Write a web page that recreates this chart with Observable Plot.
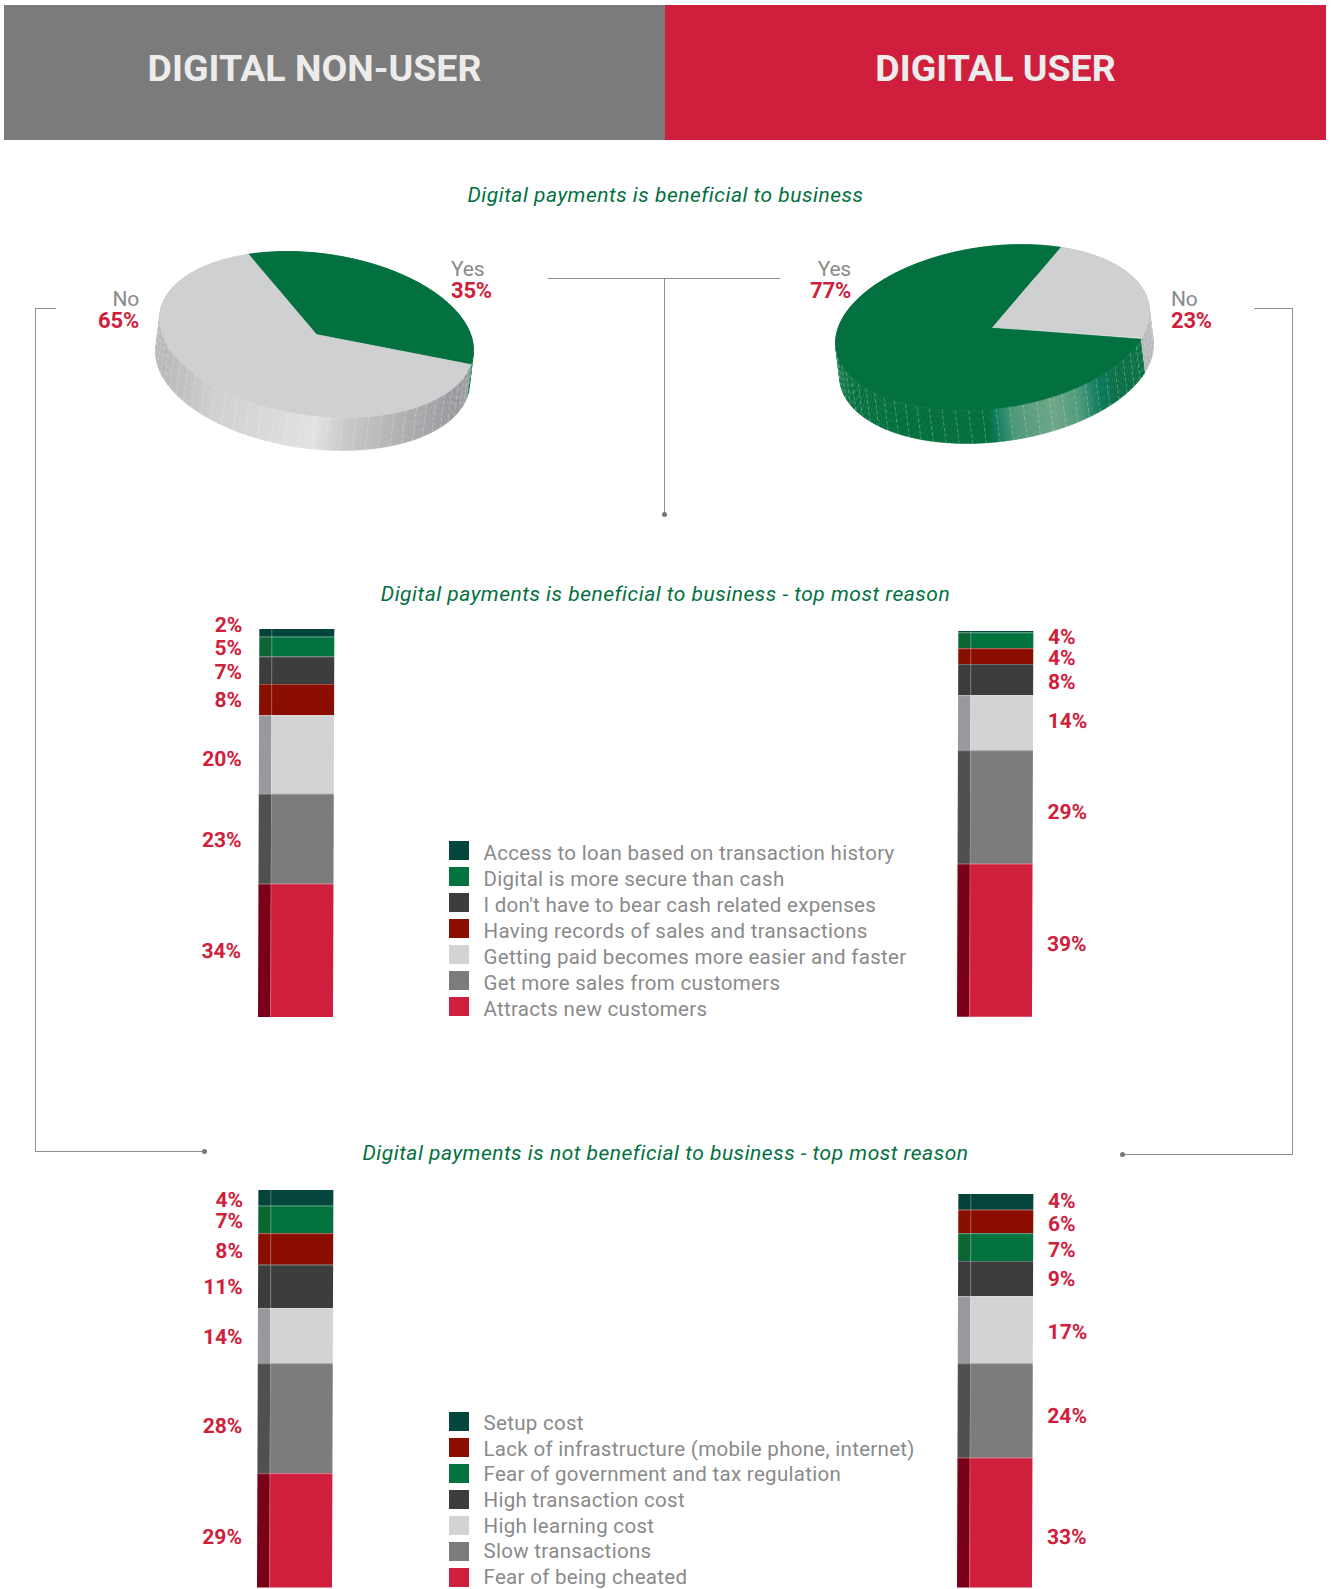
<!DOCTYPE html>
<html><head><meta charset="utf-8">
<script src="https://cdn.jsdelivr.net/npm/d3@7"></script>
<script src="https://cdn.jsdelivr.net/npm/@observablehq/plot@0.6"></script>
<style>
html,body{margin:0;padding:0;background:#fff}
#page{position:relative;width:1333px;height:1589px;overflow:hidden;font-family:Roboto,sans-serif}
.abs{position:absolute}
.band{display:flex;align-items:center;justify-content:center;color:#ececec;font-weight:700;font-size:37.5px;letter-spacing:0;box-sizing:border-box;padding-bottom:10px}
.title{left:-1px;width:1333px;text-align:center;color:#03703f;font-style:italic;font-weight:400;font-size:21px;letter-spacing:.5px;line-height:24px}
.lbl{font-size:21px;line-height:21px;color:#8a8a8a;font-weight:400;letter-spacing:-.2px}
.lbl b{display:block;color:#cf1f3d;font-weight:700;font-size:22px;letter-spacing:-.2px}
.rule{background:#8f8f8f}
.dot{width:5px;height:5px;border-radius:50%;background:#777}
.leg{color:#8a8a8a;font-size:20.5px;font-weight:400;line-height:20px;letter-spacing:.3px;white-space:nowrap}
.sw{width:20px;height:19px}
</style></head><body><div id="page"></div>
<script>
// ---- data ----
const pieKeys = ["Yes","No"];
const pieNonUser = [35,65];
const pieUser = [77,23];

const benefitCategories = ["Access to loan based on transaction history","Digital is more secure than cash","I don't have to bear cash related expenses","Having records of sales and transactions","Getting paid becomes more easier and faster","Get more sales from customers","Attracts new customers"];
const benefitNonUser = [2,5,7,8,20,23,34];
const benefitUser = [0.4,4,8,4,14,29,39];

const barrierCategories = ["Setup cost","Lack of infrastructure (mobile phone, internet)","Fear of government and tax regulation","High transaction cost","High learning cost","Slow transactions","Fear of being cheated"];
const barrierNonUser = [4,8,7,11,14,28,29];
const barrierUser = [4,6,7,9,17,24,33];

// ---- styles / layout ----
const benefitFront = ["#04453d","#02723f","#3b3e3d","#8a0d00","#d2d3d5","#7c7c7c","#cf1f3d"];
const benefitSide  = ["#04423a","#0b6633","#3a3d3c","#860f00","#97999c","#4f5150","#7a0019"];
const barrierFront = ["#04453d","#8a0d00","#02723f","#3b3e3d","#d2d3d5","#7c7c7c","#cf1f3d"];
const barrierSide  = ["#04423a","#860f00","#0b6633","#3a3d3c","#97999c","#4f5150","#7a0019"];

const page = document.getElementById("page");
function el(cls, css, html){
  const d=document.createElement("div");
  d.className="abs "+cls;
  Object.assign(d.style,css);
  if(html!==undefined) d.innerHTML=html;
  page.appendChild(d);
  return d;
}
// header
el("band",{left:"4px",top:"5px",width:"661px",height:"135px",background:"#7b7b7b",paddingRight:"40px"},"DIGITAL NON-USER");
el("band",{left:"665px",top:"5px",width:"661px",height:"135px",background:"#cf1f3d"},"DIGITAL USER");
// titles
el("title",{top:"183px"},"Digital payments is beneficial to business");
el("title",{top:"582px"},"Digital payments is beneficial to business - top most reason");
el("title",{top:"1141px"},"Digital payments is not beneficial to business - top most reason");
// connectors
function hr(x1,x2,y){el("rule",{left:x1+"px",top:y+"px",width:(x2-x1)+"px",height:"1px"})}
function vr(x,y1,y2){el("rule",{left:x+"px",top:y1+"px",width:"1px",height:(y2-y1)+"px"})}
function dot(x,y){el("dot",{left:(x-2.5)+"px",top:(y-2.5)+"px"})}
hr(548,780,278); vr(664,278,514); dot(664.5,514);
hr(35,56,308); vr(35,308,1152); hr(35,204,1151); dot(204,1151.5);
hr(1254,1293,308); vr(1292,308,1155); hr(1122,1293,1154); dot(1122,1154.5);

// ---- pies ----
const A=158,B=81,DEG=Math.PI/180;
function ramp(dom,rng){return d3.scaleLinear().domain(dom).range(rng).interpolate(d3.interpolateRgb).clamp(true)}
function drawPie({values,startDeg,tiltDeg,cx,cy,shift,topColors,wallRamps,floor}){
  const phi=tiltDeg*DEG;
  const pt=(deg)=>{const t=deg*DEG;return [A*Math.cos(t)*Math.cos(phi)-B*Math.sin(t)*Math.sin(phi),A*Math.cos(t)*Math.sin(phi)+B*Math.sin(t)*Math.cos(phi)]};
  const total=d3.sum(values);
  let a0=startDeg;
  const tops=[],walls=[],dashes=[];
  values.forEach((v,i)=>{
    const a1=a0+v/total*360;
    const id="s"+i;
    tops.push({id,x:0,y:0,color:topColors[i]});
    for(let a=a0;a<=a1+1e-6;a+=1){const p=pt(Math.min(a,a1));tops.push({id,x:p[0],y:p[1],color:topColors[i]})}
    tops.push({id,x:0,y:0,color:topColors[i]});
    for(let a=a0;a<a1;a+=1){
      const b=Math.min(a+1.2,a1);
      const p=pt(a),q=pt(b);
      const sid=`w${i}-${a}`;
      const mid=(p[0]+q[0])/2;
      const c=wallRamps[i](mid);
      const low=(r)=>[r[0]+shift,Math.min(r[1]+33,floor)];
      [p,q,low(q),low(p)].forEach(r=>walls.push({id:sid,x:r[0],y:r[1],color:c}));
      if(Math.round(a-a0)%5===0 && Math.sin(a*DEG)>-0.1){
        const l=low(p);
        dashes.push({x1:p[0],y1:p[1],x2:l[0],y2:l[1]});
      }
    }
    a0=a1;
  });
  const W=420,H=270;
  const plot=Plot.plot({
    width:W,height:H,margin:0,
    x:{domain:[-W/2,W/2],range:[0,W],axis:null},
    y:{domain:[-130,H-130],range:[0,H],axis:null},
    color:{type:"identity"},
    style:{background:"transparent",overflow:"visible"},
    marks:[
      Plot.line(walls,{x:"x",y:"y",z:"id",fill:"color",stroke:"color",strokeWidth:0.4,curve:"linear"}),
      Plot.link(dashes,{x1:"x1",y1:"y1",x2:"x2",y2:"y2",stroke:"#fff",strokeOpacity:0.38,strokeWidth:0.7,strokeDasharray:"4 2"}),
      Plot.line(tops,{x:"x",y:"y",z:"id",fill:"color",stroke:"color",strokeWidth:0.5,curve:"linear"})
    ]
  });
  plot.style.position="absolute";
  plot.style.left=(cx-W/2)+"px";
  plot.style.top=(cy-130)+"px";
  page.appendChild(plot);
}
const flatGreen=()=>"#05703f";
const greyNonUser=ramp([-163,-100,0,30,105,145],["#b0b1b3","#cfd0d1","#e1e2e2","#c8c9cb","#a8a9ab","#96979a"]);
const greenUser=ramp([-160,-5,0,20,60,85,105,125,150],["#05703f","#06703f","#0a7a5c","#4f9a7a","#6fa788","#4f9a7a","#0b7a5c","#0a6f45","#077040"]);
const greyUser=()=>"#b4b5b7";
drawPie({values:pieNonUser,startDeg:-119.6,tiltDeg:7.7,cx:315.5,cy:334,shift:-4,floor:116,
  topColors:["#03713f","#cfd0d2"],wallRamps:[flatGreen,greyNonUser]});
drawPie({values:pieUser,startDeg:22.7,tiltDeg:-7.7,cx:992,cy:327,shift:4,floor:117,
  topColors:["#03713f","#cfd0d2"],wallRamps:[greenUser,greyUser]});
// pie labels
function pieLabel(key,val,css){el("lbl",css,`${key}<b>${val}%</b>`)}
pieLabel(pieKeys[0],pieNonUser[0],{left:"451px",top:"259px"});
pieLabel(pieKeys[1],pieNonUser[1],{right:(1333-139)+"px",top:"289px",textAlign:"right"});
pieLabel(pieKeys[0],pieUser[0],{right:(1333-851)+"px",top:"259px",textAlign:"right"});
pieLabel(pieKeys[1],pieUser[1],{left:"1171px",top:"289px"});

// ---- stacked bars ----
const BAR_W=75, SIDE=0.165;
function drawBar({values,front,side,order,left,bottom,pct,labelX,nudge}){
  let cum=d3.sum(values);
  const rows=order.map((k,i)=>{const v=values[k];const y2=cum;const y1=cum-v;cum=y1;return {v,y1,y2,front:front[k],side:side[k],mid:(y1+y2)/2+nudge[i]}});
  const total=d3.sum(values);
  const U=[-1.2,2.0];
  const W=(U[1]-U[0])*BAR_W, H=total*pct+30;
  const p=Plot.plot({
    width:W,height:H,margin:0,
    x:{domain:U,range:[0,W],axis:null},
    y:{domain:[0,total],range:[H,30],axis:null},
    color:{type:"identity"},
    style:{background:"transparent",overflow:"visible",fontFamily:"Roboto,sans-serif"},
    marks:[
      Plot.rect(rows,{x1:0,x2:SIDE,y1:"y1",y2:"y2",fill:"side"}),
      Plot.rect(rows,{x1:SIDE,x2:1,y1:"y1",y2:"y2",fill:"front"}),
      Plot.ruleX([SIDE],{y1:d3.min(rows,d=>d.y1),y2:total,stroke:"#fff",strokeOpacity:0.12,strokeWidth:1}),
      Plot.ruleY(rows.slice(1),{y:"y2",x1:0,x2:1,stroke:"#fff",strokeOpacity:0.25,strokeWidth:1}),
      Plot.text(rows.filter(d=>d.v>=1),{
        x:labelX,y:"mid",text:d=>d.v+"%",
        textAnchor:labelX<0?"end":"start",lineAnchor:"middle",
        fill:"#cf1f3d",fontSize:21,fontWeight:700
      })
    ]
  });
  p.style.position="absolute";
  p.style.left=(left-(0-U[0])*BAR_W)+"px";
  p.style.top=(bottom-H)+"px";
  p.style.transformOrigin=`${(0-U[0])*BAR_W}px 100%`;
  p.style.transform="skewX(-0.2deg)";
  page.appendChild(p);
}
drawBar({values:benefitNonUser,front:benefitFront,side:benefitSide,order:[0,1,2,3,4,5,6],left:257.5,bottom:1017,pct:3.92,labelX:-0.235,
  nudge:[2.2,-0.25,-0.4,0,-1,-0.25,0]});
drawBar({values:benefitUser,front:benefitFront,side:benefitSide,order:[0,1,3,2,4,5,6],left:957,bottom:1017,pct:3.92,labelX:1.19,
  nudge:[0,1,-0.5,-0.5,0.5,-1.3,-0.8]});
drawBar({values:barrierNonUser,front:barrierFront,side:barrierSide,order:[0,2,1,3,4,5,6],left:256.5,bottom:1587.5,pct:3.935,labelX:-0.21,
  nudge:[-0.4,-0.4,-0.5,0,-0.25,-2,-1.5]});
drawBar({values:barrierUser,front:barrierFront,side:barrierSide,order:[0,1,2,3,4,5,6],left:957,bottom:1587.5,pct:3.935,labelX:1.19,
  nudge:[0.25,-0.5,-0.75,0,-0.5,-1.3,-3.6]});

// ---- legends ----
function legend(cats,colors,y0,swY0,step){
  cats.forEach((c,i)=>{
    el("sw",{left:"449px",top:(swY0+i*26-11)+"px",background:colors[i]});
    el("leg",{left:"483.5px",top:(y0+i*step-10)+"px"},c);
  });
}
legend(benefitCategories,benefitFront,852.5,852,26);
legend(barrierCategories,barrierFront,1422.8,1423,25.7);
</script></body></html>
